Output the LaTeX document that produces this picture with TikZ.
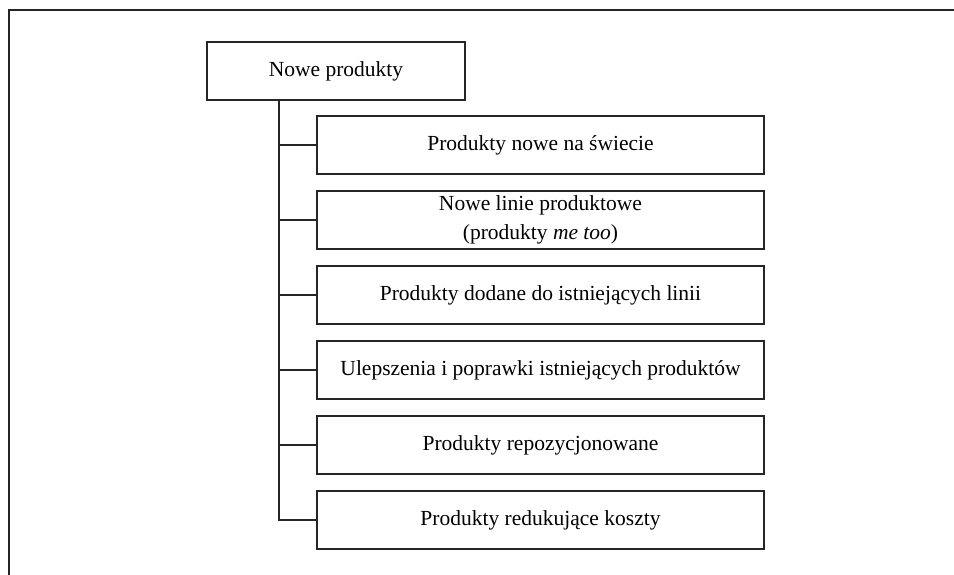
\documentclass[tikz,border=0pt]{standalone}
\usepackage{fontspec}
\setmainfont{Liberation Serif}
\begin{document}
\begin{tikzpicture}[x=1pt,y=-1pt,
  box/.style={draw=black!85, line width=1.1pt, minimum width=447pt, minimum height=58pt, inner sep=0pt, align=center, font=\fontsize{21.5}{29}\selectfont},
  topbox/.style={draw=black!85, line width=1.1pt, minimum width=258pt, minimum height=58pt, inner sep=0pt, font=\fontsize{21.5}{29}\selectfont},
  conn/.style={draw=black!85, line width=1.1pt},
  frame/.style={draw=black!85, line width=1.3pt}]
\useasboundingbox (0,0) rectangle (954,575);
\draw[frame] (954,10) -- (9,10) -- (9,575);
\node[topbox] (top) at (336,71) {Nowe produkty};
\node[box] (c1) at (540.5,145) {Produkty nowe na świecie};
\node[box] (c2) at (540.5,220) {Nowe linie produktowe\\(produkty \textit{me too})};
\node[box] (c3) at (540.5,295) {Produkty dodane do istniejących linii};
\node[box] (c4) at (540.5,370) {Ulepszenia i poprawki istniejących produktów};
\node[box] (c5) at (540.5,445) {Produkty repozycjonowane};
\node[box] (c6) at (540.5,520) {Produkty redukujące koszty};
\coordinate (t) at (top.south west -| 279,0);
\draw[conn] (t) |- (c6.west);
\foreach \i in {1,...,5} { \draw[conn] (c\i.west) -- (c\i.west -| t); }
\end{tikzpicture}
\end{document}
